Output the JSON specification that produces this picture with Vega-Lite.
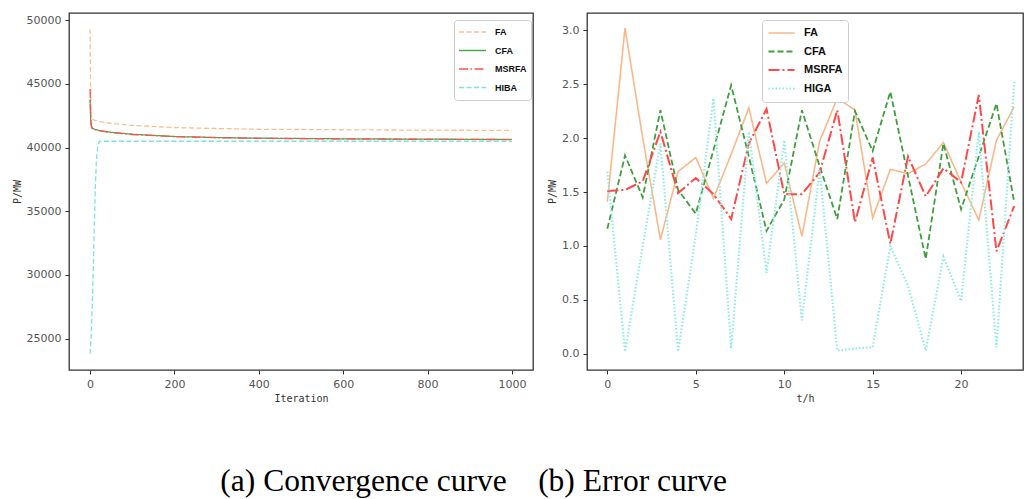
{
  "$schema": "https://vega.github.io/schema/vega-lite/v6.json",
  "background": "white",
  "padding": {"left": 11, "top": 12, "right": 0, "bottom": 0},
  "title": {"text": "(a) Convergence curve\u00a0\u00a0\u00a0\u00a0(b) Error curve", "orient": "bottom", "anchor": "start", "font": "Liberation Serif", "fontSize": 31.5, "fontWeight": "normal", "color": "black", "offset": 62, "dx": 209},
  "config": {
    "view": {"stroke": "#333", "strokeWidth": 1.3},
    "axis": {"grid": false, "domain": false, "ticks": true, "tickColor": "#333", "tickSize": 4, "labelFont": "DejaVu Sans", "labelFontSize": 11, "labelColor": "#555", "labelPadding": 4, "titleFont": "DejaVu Sans Mono", "titleFontSize": 10, "titleFontWeight": "normal", "titleColor": "#333"},
    "legend": {"orient": "none", "title": null, "symbolType": "stroke", "labelFont": "Liberation Sans", "labelFontWeight": "bold", "labelColor": "#111", "padding": 4, "strokeColor": "#ccc", "fillColor": "white", "cornerRadius": 3, "clipHeight": 16, "rowPadding": 2.5, "labelOffset": 8, "legendY": 7}
  },
  "datasets": {
    "conv": [
      {"it": 0, "algo": "FA", "p": 49300}, {"it": 1, "algo": "FA", "p": 45000}, {"it": 2, "algo": "FA", "p": 43000}, {"it": 3, "algo": "FA", "p": 42500}, {"it": 5, "algo": "FA", "p": 42250}, {"it": 10, "algo": "FA", "p": 42150}, {"it": 20, "algo": "FA", "p": 42050}, {"it": 50, "algo": "FA", "p": 41900}, {"it": 100, "algo": "FA", "p": 41750}, {"it": 200, "algo": "FA", "p": 41570}, {"it": 300, "algo": "FA", "p": 41500}, {"it": 400, "algo": "FA", "p": 41440}, {"it": 600, "algo": "FA", "p": 41400}, {"it": 800, "algo": "FA", "p": 41370}, {"it": 1000, "algo": "FA", "p": 41350},
      {"it": 0, "algo": "CFA", "p": 43800}, {"it": 1, "algo": "CFA", "p": 42500}, {"it": 2, "algo": "CFA", "p": 41900}, {"it": 3, "algo": "CFA", "p": 41700}, {"it": 5, "algo": "CFA", "p": 41520}, {"it": 10, "algo": "CFA", "p": 41450}, {"it": 20, "algo": "CFA", "p": 41350}, {"it": 50, "algo": "CFA", "p": 41200}, {"it": 100, "algo": "CFA", "p": 41050}, {"it": 200, "algo": "CFA", "p": 40870}, {"it": 300, "algo": "CFA", "p": 40790}, {"it": 400, "algo": "CFA", "p": 40740}, {"it": 600, "algo": "CFA", "p": 40690}, {"it": 800, "algo": "CFA", "p": 40660}, {"it": 1000, "algo": "CFA", "p": 40640},
      {"it": 0, "algo": "MSRFA", "p": 44600}, {"it": 1, "algo": "MSRFA", "p": 43000}, {"it": 2, "algo": "MSRFA", "p": 42000}, {"it": 3, "algo": "MSRFA", "p": 41700}, {"it": 5, "algo": "MSRFA", "p": 41500}, {"it": 10, "algo": "MSRFA", "p": 41430}, {"it": 20, "algo": "MSRFA", "p": 41330}, {"it": 50, "algo": "MSRFA", "p": 41180}, {"it": 100, "algo": "MSRFA", "p": 41030}, {"it": 200, "algo": "MSRFA", "p": 40860}, {"it": 300, "algo": "MSRFA", "p": 40780}, {"it": 400, "algo": "MSRFA", "p": 40730}, {"it": 600, "algo": "MSRFA", "p": 40680}, {"it": 800, "algo": "MSRFA", "p": 40650}, {"it": 1000, "algo": "MSRFA", "p": 40630},
      {"it": 0, "algo": "HIBA", "p": 23800}, {"it": 3, "algo": "HIBA", "p": 25500}, {"it": 6, "algo": "HIBA", "p": 28500}, {"it": 9, "algo": "HIBA", "p": 32500}, {"it": 12, "algo": "HIBA", "p": 36500}, {"it": 15, "algo": "HIBA", "p": 39000}, {"it": 18, "algo": "HIBA", "p": 40100}, {"it": 22, "algo": "HIBA", "p": 40500}, {"it": 100, "algo": "HIBA", "p": 40500}, {"it": 500, "algo": "HIBA", "p": 40500}, {"it": 1000, "algo": "HIBA", "p": 40500}
    ],
    "err": [
      {"t": 0, "algo": "FA", "e": 1.41}, {"t": 1, "algo": "FA", "e": 3.02}, {"t": 2, "algo": "FA", "e": 2.0}, {"t": 3, "algo": "FA", "e": 1.06}, {"t": 4, "algo": "FA", "e": 1.69}, {"t": 5, "algo": "FA", "e": 1.82}, {"t": 6, "algo": "FA", "e": 1.44}, {"t": 7, "algo": "FA", "e": 1.85}, {"t": 8, "algo": "FA", "e": 2.28}, {"t": 9, "algo": "FA", "e": 1.58}, {"t": 10, "algo": "FA", "e": 1.77}, {"t": 11, "algo": "FA", "e": 1.09}, {"t": 12, "algo": "FA", "e": 1.97}, {"t": 13, "algo": "FA", "e": 2.37}, {"t": 14, "algo": "FA", "e": 2.26}, {"t": 15, "algo": "FA", "e": 1.26}, {"t": 16, "algo": "FA", "e": 1.71}, {"t": 17, "algo": "FA", "e": 1.67}, {"t": 18, "algo": "FA", "e": 1.76}, {"t": 19, "algo": "FA", "e": 1.96}, {"t": 20, "algo": "FA", "e": 1.59}, {"t": 21, "algo": "FA", "e": 1.24}, {"t": 22, "algo": "FA", "e": 1.98}, {"t": 23, "algo": "FA", "e": 2.29},
      {"t": 0, "algo": "CFA", "e": 1.16}, {"t": 1, "algo": "CFA", "e": 1.84}, {"t": 2, "algo": "CFA", "e": 1.45}, {"t": 3, "algo": "CFA", "e": 2.26}, {"t": 4, "algo": "CFA", "e": 1.52}, {"t": 5, "algo": "CFA", "e": 1.30}, {"t": 6, "algo": "CFA", "e": 1.89}, {"t": 7, "algo": "CFA", "e": 2.49}, {"t": 8, "algo": "CFA", "e": 1.83}, {"t": 9, "algo": "CFA", "e": 1.14}, {"t": 10, "algo": "CFA", "e": 1.43}, {"t": 11, "algo": "CFA", "e": 2.26}, {"t": 12, "algo": "CFA", "e": 1.74}, {"t": 13, "algo": "CFA", "e": 1.25}, {"t": 14, "algo": "CFA", "e": 2.25}, {"t": 15, "algo": "CFA", "e": 1.88}, {"t": 16, "algo": "CFA", "e": 2.43}, {"t": 17, "algo": "CFA", "e": 1.65}, {"t": 18, "algo": "CFA", "e": 0.88}, {"t": 19, "algo": "CFA", "e": 1.95}, {"t": 20, "algo": "CFA", "e": 1.34}, {"t": 21, "algo": "CFA", "e": 1.83}, {"t": 22, "algo": "CFA", "e": 2.32}, {"t": 23, "algo": "CFA", "e": 1.41},
      {"t": 0, "algo": "MSRFA", "e": 1.51}, {"t": 1, "algo": "MSRFA", "e": 1.52}, {"t": 2, "algo": "MSRFA", "e": 1.60}, {"t": 3, "algo": "MSRFA", "e": 2.06}, {"t": 4, "algo": "MSRFA", "e": 1.49}, {"t": 5, "algo": "MSRFA", "e": 1.63}, {"t": 6, "algo": "MSRFA", "e": 1.48}, {"t": 7, "algo": "MSRFA", "e": 1.25}, {"t": 8, "algo": "MSRFA", "e": 1.95}, {"t": 9, "algo": "MSRFA", "e": 2.27}, {"t": 10, "algo": "MSRFA", "e": 1.48}, {"t": 11, "algo": "MSRFA", "e": 1.48}, {"t": 12, "algo": "MSRFA", "e": 1.68}, {"t": 13, "algo": "MSRFA", "e": 2.26}, {"t": 14, "algo": "MSRFA", "e": 1.22}, {"t": 15, "algo": "MSRFA", "e": 1.82}, {"t": 16, "algo": "MSRFA", "e": 1.02}, {"t": 17, "algo": "MSRFA", "e": 1.83}, {"t": 18, "algo": "MSRFA", "e": 1.46}, {"t": 19, "algo": "MSRFA", "e": 1.72}, {"t": 20, "algo": "MSRFA", "e": 1.59}, {"t": 21, "algo": "MSRFA", "e": 2.40}, {"t": 22, "algo": "MSRFA", "e": 0.95}, {"t": 23, "algo": "MSRFA", "e": 1.37},
      {"t": 0, "algo": "HIGA", "e": 1.69}, {"t": 1, "algo": "HIGA", "e": 0.02}, {"t": 2, "algo": "HIGA", "e": 1.0}, {"t": 3, "algo": "HIGA", "e": 1.95}, {"t": 4, "algo": "HIGA", "e": 0.02}, {"t": 5, "algo": "HIGA", "e": 1.1}, {"t": 6, "algo": "HIGA", "e": 2.37}, {"t": 7, "algo": "HIGA", "e": 0.05}, {"t": 8, "algo": "HIGA", "e": 2.06}, {"t": 9, "algo": "HIGA", "e": 0.75}, {"t": 10, "algo": "HIGA", "e": 1.98}, {"t": 11, "algo": "HIGA", "e": 0.31}, {"t": 12, "algo": "HIGA", "e": 1.71}, {"t": 13, "algo": "HIGA", "e": 0.03}, {"t": 14, "algo": "HIGA", "e": 0.05}, {"t": 15, "algo": "HIGA", "e": 0.06}, {"t": 16, "algo": "HIGA", "e": 1.0}, {"t": 17, "algo": "HIGA", "e": 0.63}, {"t": 18, "algo": "HIGA", "e": 0.03}, {"t": 19, "algo": "HIGA", "e": 0.90}, {"t": 20, "algo": "HIGA", "e": 0.49}, {"t": 21, "algo": "HIGA", "e": 2.06}, {"t": 22, "algo": "HIGA", "e": 0.06}, {"t": 23, "algo": "HIGA", "e": 2.52}
    ]
  },
  "hconcat": [
    {
      "width": 464,
      "height": 357,
      "data": {"name": "conv"},
      "mark": {"type": "line", "strokeWidth": 1.3},
      "encoding": {
        "x": {"field": "it", "type": "quantitative", "scale": {"domain": [-50, 1050], "nice": false, "zero": false}, "axis": {"title": "Iteration", "values": [0, 200, 400, 600, 800, 1000], "format": "d"}},
        "y": {"field": "p", "type": "quantitative", "scale": {"domain": [22525, 50575], "nice": false, "zero": false}, "axis": {"title": "P/MW", "values": [25000, 30000, 35000, 40000, 45000, 50000], "format": "d"}},
        "color": {"field": "algo", "type": "nominal", "scale": {"domain": ["FA", "CFA", "MSRFA", "HIBA"], "range": ["#fbbf94", "#4fa84f", "#ff5050", "#7fe3da"]}, "legend": {"legendX": 385, "symbolSize": 729, "labelFontSize": 9}},
        "strokeDash": {"field": "algo", "type": "nominal", "scale": {"domain": ["FA", "CFA", "MSRFA", "HIBA"], "range": [[5, 2.5], [1, 0], [9, 2.5, 1.5, 2.5], [5, 2.5]]}, "legend": {"legendX": 385, "symbolSize": 729, "labelFontSize": 9}}
      }
    },
    {
      "width": 436,
      "height": 357,
      "data": {"name": "err"},
      "mark": {"type": "line"},
      "encoding": {
        "x": {"field": "t", "type": "quantitative", "scale": {"domain": [-1.15, 23.5], "nice": false, "zero": false}, "axis": {"title": "t/h", "values": [0, 5, 10, 15, 20]}},
        "y": {"field": "e", "type": "quantitative", "scale": {"domain": [-0.15, 3.16], "nice": false, "zero": false}, "axis": {"title": "P/MW", "values": [0, 0.5, 1, 1.5, 2, 2.5, 3], "format": ".1f"}},
        "color": {"field": "algo", "type": "nominal", "scale": {"domain": ["FA", "CFA", "MSRFA", "HIGA"], "range": ["#f7b98a", "#3f9f3f", "#ff4848", "#90ebe3"]}, "legend": {"legendX": 175, "symbolSize": 676, "labelFontSize": 11, "padding": 5}},
        "strokeDash": {"field": "algo", "type": "nominal", "scale": {"domain": ["FA", "CFA", "MSRFA", "HIGA"], "range": [[1, 0], [6, 3], [11, 3, 2, 3], [1.5, 2]]}, "legend": {"legendX": 175, "symbolSize": 676, "labelFontSize": 11, "padding": 5}},
        "strokeWidth": {"field": "algo", "type": "nominal", "scale": {"domain": ["FA", "CFA", "MSRFA", "HIGA"], "range": [1.6, 2.2, 2.2, 1.6]}, "legend": {"legendX": 175, "symbolSize": 676, "labelFontSize": 11, "padding": 5}}
      }
    }
  ],
  "spacing": 12,
  "resolve": {"scale": {"color": "independent", "strokeDash": "independent", "strokeWidth": "independent"}, "legend": {"color": "independent", "strokeDash": "independent", "strokeWidth": "independent"}}
}
